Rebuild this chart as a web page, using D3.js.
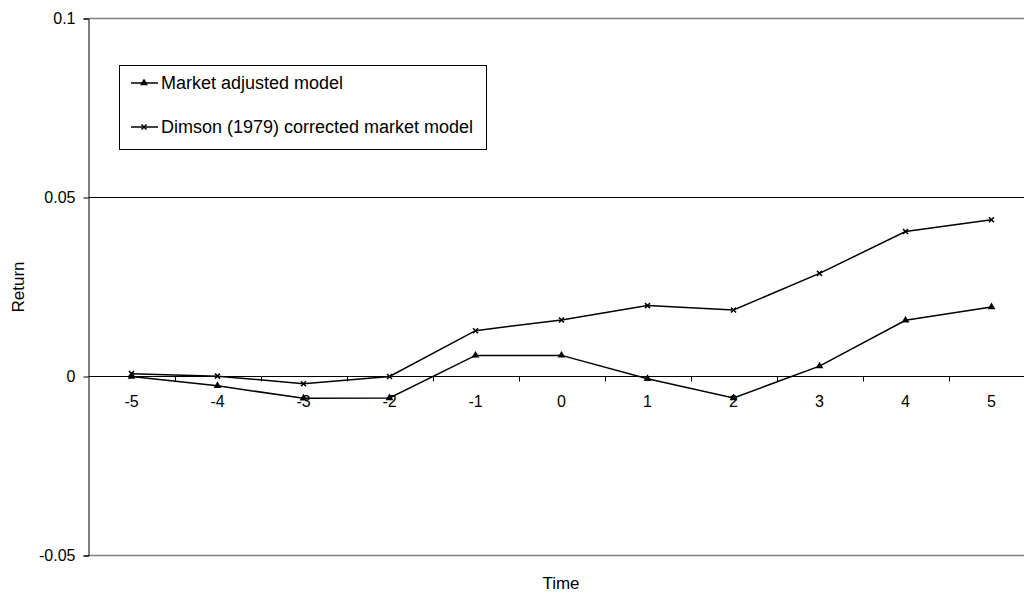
<!DOCTYPE html>
<html><head><meta charset="utf-8">
<script src="https://cdn.jsdelivr.net/npm/d3@7"></script>
<style>
body{margin:0;background:#fff;overflow:hidden;}
text{font-family:"Liberation Sans",Arial,sans-serif;fill:#000;}
</style></head>
<body>
<svg id="chart" width="1024" height="596"></svg>
<script>
const categories = ["-5","-4","-3","-2","-1","0","1","2","3","4","5"];
const marketAdjusted = [0.0000,-0.0026,-0.0061,-0.0060,0.0059,0.0059,-0.0006,-0.0060,0.0029,0.0157,0.0194];
const dimson = [0.0008,0.0001,-0.0020,0.0000,0.0128,0.0158,0.0198,0.0186,0.0288,0.0405,0.0438];
const yTicks = [-0.05,0,0.05,0.1];
const yTickLabels = ["-0.05","0","0.05","0.1"];
const seriesNames = ["Market adjusted model","Dimson (1979) corrected market model"];

const svg = d3.select("#chart");
const L = 88.5, R = 1034.5, T = 18.5, B = 555.5;
const x = d3.scaleBand().domain(categories).range([L, R]).padding(0);
const y = d3.scaleLinear().domain([-0.05, 0.1]).range([B, T]);
const cx = c => x(c) + x.bandwidth()/2;
const FONT = "Liberation Sans, Arial, sans-serif";

// gridline at 0.05
svg.append("line").attr("x1",L).attr("x2",1024).attr("y1",y(0.05)).attr("y2",y(0.05))
  .attr("stroke","#000").attr("stroke-width",1);
// plot border top/bottom (gray)
[0.1,-0.05].forEach(v=>{
  svg.append("line").attr("x1",L).attr("x2",1024).attr("y1",y(v)).attr("y2",y(v))
    .attr("stroke","#808080").attr("stroke-width",1.5);
});

// y axis
const yAxis = d3.axisLeft(y).tickValues(yTicks).tickSize(5).tickPadding(8)
  .tickFormat((d,i)=>yTickLabels[i]);
const gy = svg.append("g").attr("transform",`translate(${L},0)`).call(yAxis);
gy.select(".domain").attr("stroke","#000").attr("stroke-width",1);
gy.selectAll(".tick line").attr("stroke","#000");
gy.selectAll("text").style("font-size","16px").style("font-family",FONT);

// x axis at zero
const xAxis = d3.axisBottom(x).tickSize(0).tickPadding(19);
const gx = svg.append("g").attr("transform",`translate(0,${y(0)})`).call(xAxis);
gx.select(".domain").remove();
gx.selectAll("text").style("font-size","16px").style("font-family",FONT);
svg.append("line").attr("x1",L).attr("x2",1024).attr("y1",y(0)).attr("y2",y(0)).attr("stroke","#000").attr("stroke-width",1);
// boundary ticks
svg.selectAll(".bt").data(categories.slice(1)).enter().append("line")
  .attr("x1",d=>Math.round(x(d))+0.5).attr("x2",d=>Math.round(x(d))+0.5).attr("y1",y(0)).attr("y2",y(0)+5)
  .attr("stroke","#000").attr("stroke-width",1);

// lines
const line = d3.line().x((d,i)=>cx(categories[i])).y(d=>y(d));
svg.append("path").datum(marketAdjusted).attr("d",line).attr("fill","none").attr("stroke","#000").attr("stroke-width",1.5);
svg.append("path").datum(dimson).attr("d",line).attr("fill","none").attr("stroke","#000").attr("stroke-width",1.5);

const tri = d3.symbol().type(d3.symbolTriangle).size(26);
svg.selectAll(".m1").data(marketAdjusted).enter().append("path")
  .attr("d",tri).attr("transform",(d,i)=>`translate(${cx(categories[i])},${y(d)})`).attr("fill","#000");
const cross = "M-2.5,-2.5L2.5,2.5M-2.5,2.5L2.5,-2.5";
svg.selectAll(".m2").data(dimson).enter().append("path")
  .attr("d",cross).attr("transform",(d,i)=>`translate(${cx(categories[i])},${y(d)})`)
  .attr("stroke","#000").attr("stroke-width",1.5).attr("fill","none");

// axis titles
svg.append("text").attr("x",561).attr("y",589).attr("text-anchor","middle").style("font-size","17px").text("Time");
svg.append("text").attr("transform",`translate(24,287) rotate(-90)`).attr("text-anchor","middle").style("font-size","17px").text("Return");

// legend
const lg = svg.append("g");
lg.append("rect").attr("x",119.5).attr("y",65.5).attr("width",367).attr("height",84)
  .attr("fill","#fff").attr("stroke","#000").attr("stroke-width",1);
const rows = [83,127];
seriesNames.forEach((n,i)=>{
  lg.append("line").attr("x1",131).attr("x2",158).attr("y1",rows[i]).attr("y2",rows[i]).attr("stroke","#000").attr("stroke-width",1.5);
  if(i===0) lg.append("path").attr("d",tri).attr("transform",`translate(144,${rows[i]})`).attr("fill","#000");
  else lg.append("path").attr("d",cross).attr("transform",`translate(144,${rows[i]})`).attr("stroke","#000").attr("stroke-width",1.5);
  lg.append("text").attr("x",161).attr("y",rows[i]).attr("dy","0.35em").style("font-size","18px").text(n);
});
</script>
</body></html>
